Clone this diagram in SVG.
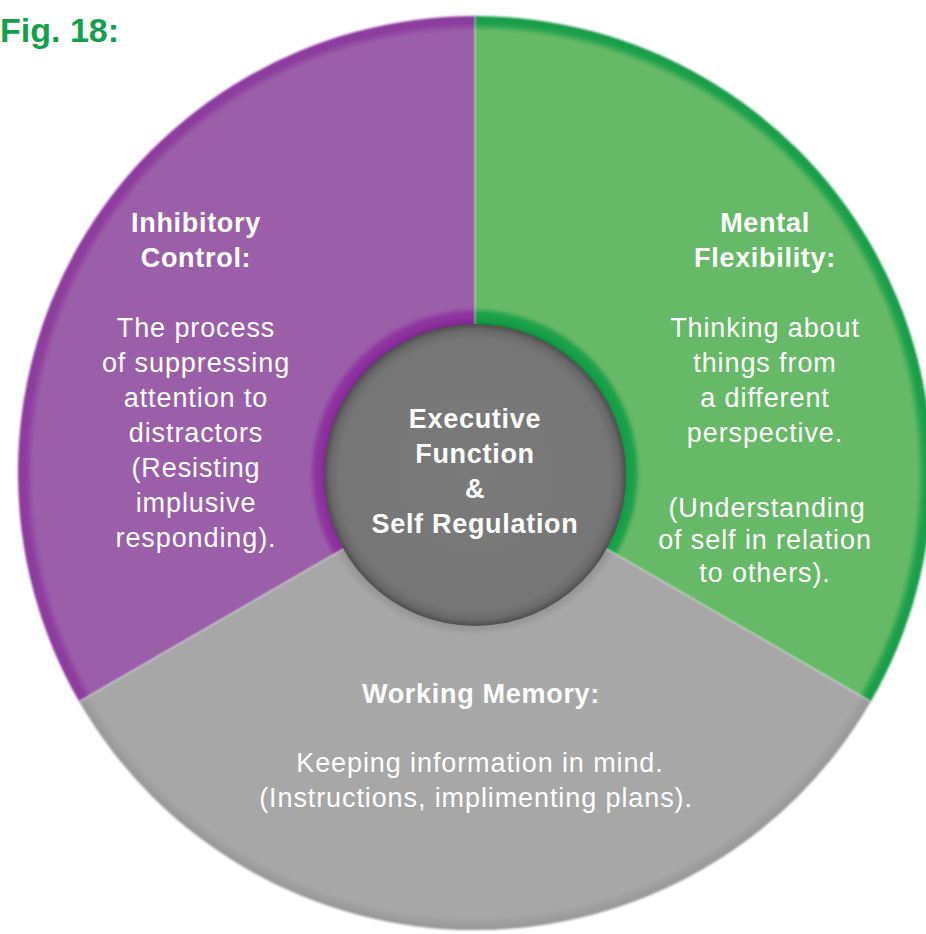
<svg xmlns="http://www.w3.org/2000/svg" width="926" height="934" viewBox="0 0 926 934">
  <defs>
    <!-- sector fills: darker band at the hub ring and at the outer rim -->
    <radialGradient id="purpleFill" gradientUnits="userSpaceOnUse" cx="475" cy="473" r="457">
      <stop offset="0.325" stop-color="#7a2a8c"/>
      <stop offset="0.335" stop-color="#8b2d9c"/>
      <stop offset="0.35" stop-color="#9036a1"/>
      <stop offset="0.362" stop-color="#9a5ea8"/>
      <stop offset="0.968" stop-color="#9a5ea8"/>
      <stop offset="0.982" stop-color="#8f3fa0"/>
      <stop offset="1" stop-color="#8a389c"/>
    </radialGradient>
    <radialGradient id="greenFill" gradientUnits="userSpaceOnUse" cx="475" cy="473" r="457">
      <stop offset="0.325" stop-color="#0e8a3c"/>
      <stop offset="0.335" stop-color="#169e48"/>
      <stop offset="0.35" stop-color="#1fa24c"/>
      <stop offset="0.362" stop-color="#66b966"/>
      <stop offset="0.968" stop-color="#66b966"/>
      <stop offset="0.982" stop-color="#22a24e"/>
      <stop offset="1" stop-color="#159a45"/>
    </radialGradient>
    <radialGradient id="grayFill" gradientUnits="userSpaceOnUse" cx="475" cy="473" r="457">
      <stop offset="0.325" stop-color="#8c8c8c"/>
      <stop offset="0.355" stop-color="#a7a7a7"/>
      <stop offset="0.972" stop-color="#a7a7a7"/>
      <stop offset="1" stop-color="#969696"/>
    </radialGradient>
    <radialGradient id="hubFill" cx="0.5" cy="0.5" r="0.5">
      <stop offset="0" stop-color="#7a7a7a"/>
      <stop offset="0.9" stop-color="#767676"/>
      <stop offset="0.96" stop-color="#696969"/>
      <stop offset="1" stop-color="#4e4e4e"/>
    </radialGradient>
    <filter id="softEdge" x="-5%" y="-5%" width="110%" height="110%">
      <feGaussianBlur stdDeviation="0.8"/>
    </filter>
  </defs>
  <style>
    .head { font-family: "Liberation Sans", Arial, sans-serif; font-weight: bold; font-size: 27px; fill: #ffffff; text-anchor: middle; letter-spacing: 0.7px; }
    .body { font-family: "Liberation Sans", Arial, sans-serif; font-size: 27px; fill: #ffffff; text-anchor: middle; letter-spacing: 0.9px; }
    .title { font-family: "Liberation Sans", Arial, sans-serif; font-weight: bold; font-size: 34px; fill: #13a04b; }
  </style>

  <rect width="926" height="934" fill="#ffffff"/>

  <text id="title" class="title" x="0" y="42">Fig. 18:</text>

  <!-- three 120-degree sectors around the hub -->
  <g id="node-inhibitory">
    <path d="M475,473 L79.2,701.5 A457,457 0 0 1 475,16 Z" fill="url(#purpleFill)" filter="url(#softEdge)"/>
    <text class="head" x="196" y="232">Inhibitory</text>
    <text class="head" x="196" y="267">Control:</text>
    <text class="body" x="196" y="337">The process</text>
    <text class="body" x="196" y="372">of suppressing</text>
    <text class="body" x="196" y="407">attention to</text>
    <text class="body" x="196" y="442">distractors</text>
    <text class="body" x="196" y="477">(Resisting</text>
    <text class="body" x="196" y="512">implusive</text>
    <text class="body" x="196" y="547">responding).</text>
  </g>

  <g id="node-flexibility">
    <path d="M475,473 L475,16 A457,457 0 0 1 870.8,701.5 Z" fill="url(#greenFill)" filter="url(#softEdge)"/>
    <text class="head" x="765" y="232">Mental</text>
    <text class="head" x="765" y="267">Flexibility:</text>
    <text class="body" x="765" y="337">Thinking about</text>
    <text class="body" x="765" y="372">things from</text>
    <text class="body" x="765" y="407">a different</text>
    <text class="body" x="765" y="442">perspective.</text>
    <text class="body" x="767" y="517">(Understanding</text>
    <text class="body" x="765" y="549">of self in relation</text>
    <text class="body" x="765" y="582">to others).</text>
  </g>

  <g id="node-memory">
    <path d="M475,473 L870.8,701.5 A457,457 0 0 1 79.2,701.5 Z" fill="url(#grayFill)" filter="url(#softEdge)"/>
    <text class="head" x="481" y="703">Working Memory:</text>
    <text class="body" x="480" y="772">Keeping information in mind.</text>
    <text class="body" x="476" y="807">(Instructions, implimenting plans).</text>
  </g>

  <!-- central hub -->
  <g id="node-center">
    <circle cx="475" cy="475" r="151" fill="url(#hubFill)"/>
    <text class="head" x="475" y="428">Executive</text>
    <text class="head" x="475" y="463">Function</text>
    <text class="head" x="475" y="498">&amp;</text>
    <text class="head" x="475" y="533">Self Regulation</text>
  </g>
</svg>
